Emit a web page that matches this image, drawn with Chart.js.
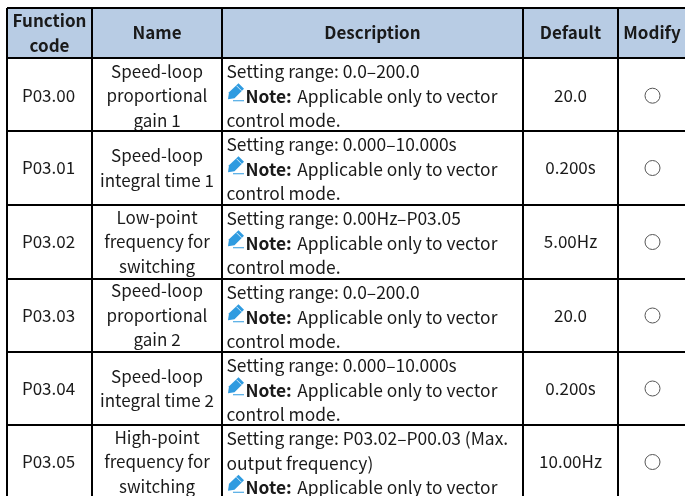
<!DOCTYPE html>
<html>
<head>
<meta charset="utf-8">
<script src="https://cdn.jsdelivr.net/npm/chart.js@4"></script>
<style>
html, body { margin: 0; padding: 0; background: #fff; overflow: hidden; }
#wrap { width: 685px; height: 496px; }
</style>
</head>
<body>
<div id="wrap"><canvas id="paramTable"></canvas></div>
<script>
// Table content
const headers = [['Function', 'code'], ['Name'], ['Description'], ['Default'], ['Modify']];
const codes = ['P03.00', 'P03.01', 'P03.02', 'P03.03', 'P03.04', 'P03.05'];
const names = [
    ['Speed-loop', 'proportional', 'gain 1'],
    ['Speed-loop', 'integral time 1'],
    ['Low-point', 'frequency for', 'switching'],
    ['Speed-loop', 'proportional', 'gain 2'],
    ['Speed-loop', 'integral time 2'],
    ['High-point', 'frequency for', 'switching']
];
const ranges = [
    ['Setting range: 0.0–200.0'],
    ['Setting range: 0.000–10.000s'],
    ['Setting range: 0.00Hz–P03.05'],
    ['Setting range: 0.0–200.0'],
    ['Setting range: 0.000–10.000s'],
    ['Setting range: P03.02–P00.03 (Max.', 'output frequency)']
];
const noteLabel = 'Note:';
const noteText = 'Applicable only to vector';
const noteTail = 'control mode.';
const defaults = ['20.0', '0.200s', '5.00Hz', '20.0', '0.200s', '10.00Hz'];

// Axis ticks: column and row borders, one axis unit is one pixel
const columnEdges = [7, 92, 222, 523, 618, 686];
const rowEdges = [8, 58, 131, 205, 279, 352, 425, 499];
// The first row's text overflows its cell a little in the original
const rowShift = [1.2, 0, 0, 0, 0, 0];

const fontName = '"Noto Sans CJK SC", "Noto Sans", sans-serif';
const fontSize = 17;
const descSize = 17.4;
const lineGap = 24.5;

function mid(edges, i) {
    return (edges[i] + edges[i + 1]) / 2;
}

// Pencil icon in front of each note
function drawPencil(ctx, x, y) {
    ctx.save();
    ctx.translate(x, y);
    ctx.fillStyle = '#2f9be0';
    ctx.beginPath();
    ctx.moveTo(0.5, 3);
    ctx.lineTo(1.5, -4);
    ctx.lineTo(11, -13);
    ctx.lineTo(16.5, -7.5);
    ctx.lineTo(7, 2);
    ctx.closePath();
    ctx.fill();
    ctx.fillRect(5.5, 4, 11, 1);
    ctx.strokeStyle = '#ffffff';
    ctx.lineWidth = 0.8;
    ctx.beginPath();
    ctx.moveTo(9, -10.5);
    ctx.lineTo(14, -5.5);
    ctx.stroke();
    ctx.restore();
}

// Writes the cell text through the axes
const cellText = {
    id: 'cellText',
    afterDatasetsDraw(chart) {
        const { ctx, scales: { x, y } } = chart;
        const colX = i => x.getPixelForValue(mid(columnEdges, i));
        const stack = (lines, cx, cy) => {
            lines.forEach((line, i) => {
                ctx.fillText(line, cx, cy + (i - (lines.length - 1) / 2) * lineGap);
            });
        };
        ctx.save();
        ctx.fillStyle = '#1a1a1a';
        ctx.textBaseline = 'middle';
        ctx.textAlign = 'center';

        ctx.font = 'bold ' + fontSize + 'px ' + fontName;
        headers.forEach((lines, c) => {
            stack(lines, colX(c), y.getPixelForValue(mid(rowEdges, 0)));
        });

        codes.forEach((code, r) => {
            const cy = y.getPixelForValue(mid(rowEdges, r + 1) + rowShift[r]);
            ctx.font = fontSize + 'px ' + fontName;
            ctx.textAlign = 'center';
            ctx.fillText(code, colX(0) - 1, cy);
            stack(names[r], colX(1), cy);
            ctx.fillText(defaults[r], colX(3), cy);

            // description starts at the top of the row
            const left = x.getPixelForValue(columnEdges[2]) + 4.5;
            let ly = y.getPixelForValue(rowEdges[r + 1]) + 13.75;
            ctx.textAlign = 'left';
            ctx.font = descSize + 'px ' + fontName;
            ranges[r].forEach(line => {
                ctx.fillText(line, left, ly);
                ly += lineGap;
            });
            drawPencil(ctx, left + 1, ly);
            ctx.font = 'bold ' + descSize + 'px ' + fontName;
            ctx.fillText(noteLabel, left + 19, ly);
            const w = ctx.measureText(noteLabel).width;
            ctx.font = descSize + 'px ' + fontName;
            ctx.fillText(noteText, left + 24.5 + w, ly);
            ly += lineGap;
            ctx.fillText(noteTail, left, ly);
        });
        ctx.restore();
    }
};

const headerFill = columnEdges.map(v => ({ x: v, y: rowEdges[1] }));
const modifyMarks = codes.map((_, r) => ({ x: mid(columnEdges, 4) + 0.5, y: mid(rowEdges, r + 1) + rowShift[r] }));

new Chart(document.getElementById('paramTable').getContext('2d'), {
    type: 'scatter',
    data: {
        datasets: [{
            label: 'Modify',
            data: modifyMarks,
            pointRadius: 7.5,
            pointBackgroundColor: '#ffffff',
            pointBorderColor: '#555555',
            pointBorderWidth: 1
        }, {
            label: 'Header',
            type: 'line',
            data: headerFill,
            borderWidth: 0,
            pointRadius: 0,
            backgroundColor: '#b8cce4',
            fill: 'end'
        }]
    },
    plugins: [cellText],
    options: {
        responsive: true,
        maintainAspectRatio: false,
        animation: false,
        layout: { autoPadding: false, padding: { left: 7, top: 8, right: 0, bottom: 0 } },
        plugins: {
            legend: { display: false },
            tooltip: { enabled: false }
        },
        scales: {
            x: {
                type: 'linear',
                min: 7,
                max: 685,
                afterBuildTicks: axis => { axis.ticks = columnEdges.map(value => ({ value })); },
                ticks: { display: false },
                border: { display: false },
                grid: { color: '#000000', lineWidth: 2, drawTicks: false, z: 1 }
            },
            y: {
                type: 'linear',
                reverse: true,
                min: 8,
                max: 496,
                afterBuildTicks: axis => { axis.ticks = rowEdges.map(value => ({ value })); },
                ticks: { display: false },
                border: { display: false },
                grid: { color: '#000000', lineWidth: 2, drawTicks: false, z: 1 }
            }
        }
    }
});
</script>
</body>
</html>
